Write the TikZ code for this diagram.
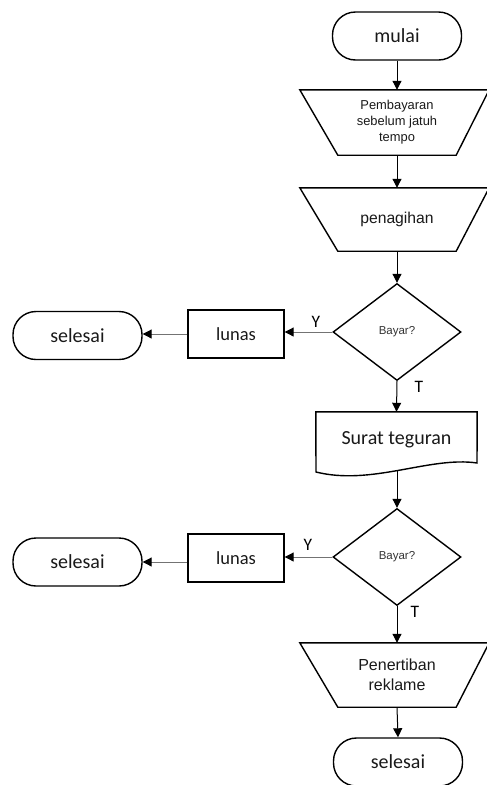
\documentclass[tikz,border=0pt]{standalone}
\usepackage{fontspec}
\setmainfont{Liberation Sans}
\newfontfamily\calfont{Carlito}
\usetikzlibrary{shapes.geometric,arrows.meta}
\begin{document}
\begin{tikzpicture}[x=1pt,y=-1pt,
  term/.style={draw,line width=1.4pt,rounded corners=23pt,minimum width=129pt,minimum height=48pt,inner sep=0pt,font=\calfont\fontsize{20}{22}\selectfont,text=black!90},
  procbox/.style={draw,line width=1.4pt,minimum width=96pt,minimum height=48pt,inner sep=0pt,font=\calfont\fontsize{18.5}{22}\selectfont,text=black!90},
  dec/.style={draw,diamond,line width=1.4pt,minimum width=128pt,minimum height=97pt,inner sep=0pt,font=\fontsize{11.5}{13}\selectfont,text=black!80},
  manual/.style={minimum width=118pt,inner sep=0pt,align=center,text=black!90},
  outl/.style={line width=1.4pt},
  arr/.style={-{Triangle[length=9pt,width=9pt,color=black]},line width=1pt},
  harr/.style={arr,draw=black!55},
  lbl/.style={font=\calfont\fontsize{17.5}{20}\selectfont,inner sep=0pt}
]
\useasboundingbox (0,0) rectangle (487,785);

% main column
\node[term] (mulai) at (397,36) {mulai};

\node[manual,minimum height=65pt,font=\fontsize{12.9}{16}\selectfont] (t1) at (397,122.5) {Pembayaran\\sebelum jatuh\\tempo};
\draw[outl] ([xshift=-38pt]t1.north west) -- ([xshift=33pt]t1.north east) -- (t1.south east) -- (t1.south west) -- cycle;

\node[manual,minimum height=63pt,font=\fontsize{15.7}{18}\selectfont] (t2) at (397,219.5) {penagihan};
\draw[outl] ([xshift=-38pt]t2.north west) -- ([xshift=33pt]t2.north east) -- (t2.south east) -- (t2.south west) -- cycle;

\node[dec] (d1) at (397,332) {Bayar?};
\node[procbox] (l1) at (236,334) {lunas};
\node[term] (s1) at (77.5,335.5) {selesai};

\node[minimum width=161pt,minimum height=56pt,inner sep=0pt,font=\calfont\fontsize{20}{22}\selectfont,text=black!90] (doc) at (396.5,440) {Surat teguran};
\draw[outl] (doc.north west) -- (doc.north east) -- (477,463)
  .. controls (430,456) and (372,486) .. (316,472) -- cycle;
\coordinate (docb) at (397,470);

\node[dec] (d2) at (397,557) {Bayar?};
\node[procbox] (l2) at (236,558) {lunas};
\node[term] (s2) at (77.5,562) {selesai};

\node[manual,minimum height=64pt,font=\fontsize{16}{20}\selectfont] (t3) at (397,675) {Penertiban\\reklame};
\draw[outl] ([xshift=-38pt]t3.north west) -- ([xshift=33pt]t3.north east) -- (t3.south east) -- (t3.south west) -- cycle;

\node[term] (s3) at (398,762) {selesai};

% vertical connectors
\draw[arr] (mulai.south) -- (t1.north);
\draw[arr] (t1.south) -- (t2.north);
\draw[arr] (t2.south) -- (d1.north);
\draw[arr] (d1.south) -- (doc.north);
\draw[arr] (docb) -- (d2.north);
\draw[arr] (d2.south) -- (t3.north);
\draw[arr] (t3.south) -- (s3.north);

% horizontal connectors
\draw[harr] (d1.west) -- (d1.west -| l1.east);
\draw[harr] (l1.west) -- (l1.west -| s1.east);
\draw[harr] (d2.west) -- (d2.west -| l2.east);
\draw[harr] (l2.west |- s2.east) -- (s2.east);

% labels
\node[lbl] (y1) at (316,322) {Y};
\node[lbl] (tt1) at (419,387) {T};
\node[lbl] (y2) at (308,545) {Y};
\node[lbl] (tt2) at (415,612) {T};
\end{tikzpicture}
\end{document}
